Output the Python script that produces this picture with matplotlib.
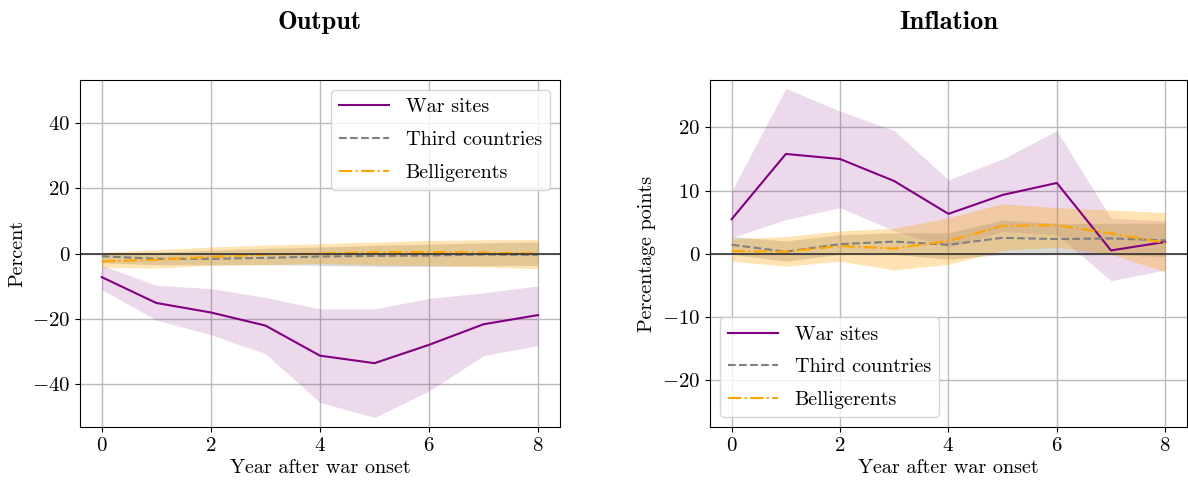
import numpy as np
import matplotlib
matplotlib.use("Agg")
import matplotlib.pyplot as plt

plt.rcParams['font.family'] = 'serif'
plt.rcParams['font.serif'] = ['cmr10']
plt.rcParams['mathtext.fontset'] = 'cm'
plt.rcParams['axes.formatter.use_mathtext'] = True
plt.rcParams['font.size'] = 14.5
plt.rcParams['xtick.labelsize'] = 15
plt.rcParams['ytick.labelsize'] = 15

years = np.arange(9)

# Output (percent)
out_war = [-7.2, -15.1, -18.0, -22.0, -31.2, -33.5, -27.9, -21.6, -18.8]
out_war_hi = [-3.6, -9.7, -10.7, -13.4, -16.9, -16.9, -13.7, -12.0, -9.9]
out_war_lo = [-11.0, -20.3, -24.8, -30.6, -45.5, -50.1, -42.0, -31.2, -28.1]
out_third = [-0.8, -1.6, -1.6, -1.3, -0.9, -0.7, -0.6, -0.3, -0.4]
out_third_hi = [0.0, 0.4, 1.0, 1.6, 2.0, 2.5, 2.9, 3.3, 3.5]
out_third_lo = [-2.8, -3.4, -3.4, -3.4, -3.6, -3.9, -3.9, -3.7, -3.6]
out_bell = [-2.4, -1.9, -1.0, -0.3, 0.0, 0.4, 0.5, 0.3, 0.0]
out_bell_hi = [0.4, 1.2, 2.0, 2.6, 3.0, 3.5, 4.0, 4.2, 4.3]
out_bell_lo = [-4.3, -4.4, -3.6, -3.4, -3.0, -3.4, -3.6, -4.1, -4.6]

# Inflation (percentage points)
inf_war = [5.45, 15.8, 15.0, 11.5, 6.3, 9.3, 11.2, 0.5, 1.85]
inf_war_hi = [9.9, 26.2, 22.6, 19.5, 11.7, 15.0, 19.5, 5.6, 5.2]
inf_war_lo = [2.5, 5.4, 7.3, 3.6, 1.0, 3.5, 3.0, -4.3, -2.6]
inf_third = [1.4, 0.3, 1.5, 1.9, 1.4, 2.5, 2.3, 2.4, 2.1]
inf_third_hi = [2.7, 2.0, 3.0, 3.3, 3.3, 5.3, 4.8, 4.8, 4.8]
inf_third_lo = [-0.1, -1.2, -0.1, -0.1, -0.9, -0.1, 0.0, -0.1, -0.5]
inf_bell = [0.4, 0.3, 1.2, 0.8, 2.0, 4.4, 4.5, 3.2, 1.7]
inf_bell_hi = [2.3, 2.7, 3.6, 4.0, 5.7, 7.9, 7.3, 6.9, 6.5]
inf_bell_lo = [-1.2, -2.0, -1.2, -2.6, -1.7, 0.5, 1.0, -0.1, -2.9]

fig = plt.figure(figsize=(11.88, 4.83), dpi=100)
ax1 = fig.add_axes([0.0673, 0.116, 0.404, 0.718])
ax2 = fig.add_axes([0.5976, 0.116, 0.4015, 0.718])


def panel(ax, war, war_lo, war_hi, third, third_lo, third_hi, bell, bell_lo, bell_hi):
    ax.fill_between(years, war_lo, war_hi, color='purple', alpha=0.15, lw=0)
    ax.fill_between(years, third_lo, third_hi, color='gray', alpha=0.3, lw=0)
    ax.fill_between(years, bell_lo, bell_hi, color='orange', alpha=0.3, lw=0)
    ax.plot(years, war, color='purple', lw=1.5, label='War sites')
    ax.plot(years, third, color='gray', ls='--', lw=1.5, label='Third countries')
    ax.plot(years, bell, color='orange', ls='-.', lw=1.5, label='Belligerents')
    ax.axhline(0, color='#333333', lw=1.2)
    ax.grid(True, color='#bbbbbb', lw=1)
    ax.set_axisbelow(True)
    ax.set_xlabel('Year after war onset', labelpad=3)
    ax.set_xticks([0, 2, 4, 6, 8])


panel(ax1, out_war, out_war_lo, out_war_hi, out_third, out_third_lo, out_third_hi,
      out_bell, out_bell_lo, out_bell_hi)
ax1.set_ylim(-53, 53)
ax1.set_yticks([-40, -20, 0, 20, 40])
ax1.set_ylabel('Percent')
ax1.set_title('Output', fontfamily='cmb10', fontsize=19, pad=37)
ax1.legend(loc='upper right', handlelength=2.5, labelspacing=0.72)

panel(ax2, inf_war, inf_war_lo, inf_war_hi, inf_third, inf_third_lo, inf_third_hi,
      inf_bell, inf_bell_lo, inf_bell_hi)
ax2.set_ylim(-27.5, 27.5)
ax2.set_yticks([-20, -10, 0, 10, 20])
ax2.set_ylabel('Percentage points')
ax2.set_title('Inflation', fontfamily='cmb10', fontsize=19, pad=37)
ax2.legend(loc='lower left', handlelength=2.5, labelspacing=0.72)

fig.savefig('out.png', dpi=100)
